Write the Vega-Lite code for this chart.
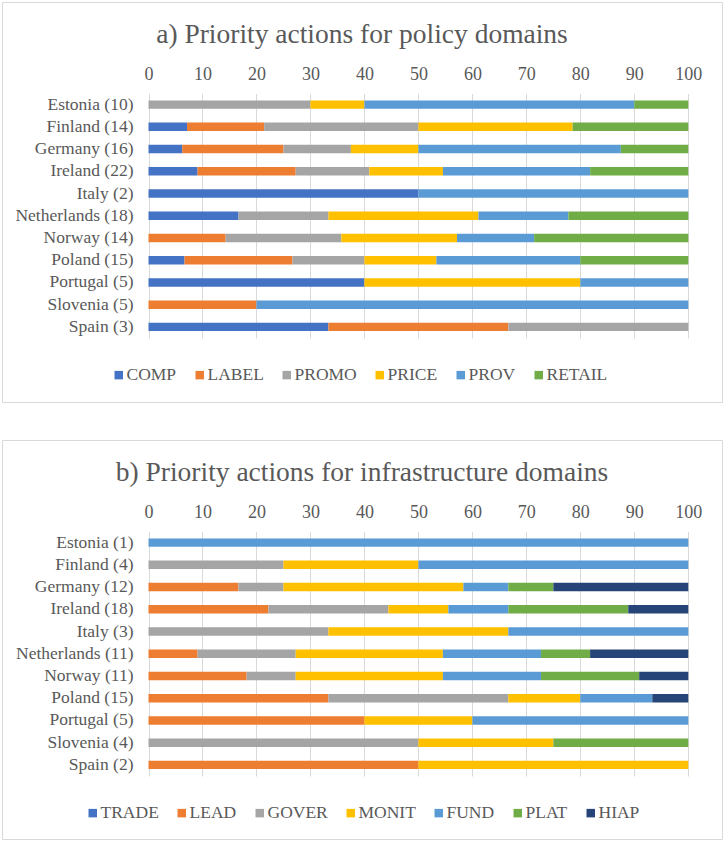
{
  "$schema": "https://vega.github.io/schema/vega-lite/v6.json",
  "padding": {"left": 1, "top": 1, "right": 0, "bottom": 0},
  "background": "white",
  "spacing": 36,
  "resolve": {"scale": {"color": "independent"}, "legend": {"color": "independent"}},
  "config": {
    "view": {"stroke": "#d9d9d9", "strokeWidth": 1},
    "font": "Liberation Serif",
    "title": {"font": "Liberation Serif", "fontSize": 27.5, "fontWeight": "normal", "color": "#595959", "offset": -46, "baseline": "alphabetic", "anchor": "middle"},
    "axis": {"labelFont": "Liberation Serif", "labelColor": "#595959", "domain": false, "ticks": false, "tickSize": 0, "title": null, "labelPadding": 0, "labelFlush": false, "labelOverlap": false},
    "legend": {"labelFont": "Liberation Serif", "labelFontSize": 17.5, "labelColor": "#595959", "symbolType": "square", "symbolSize": 72, "symbolStrokeWidth": 0, "symbolOpacity": 1, "labelOffset": -1, "columnPadding": 14, "padding": 0, "title": null}
  },
  "vconcat": [
    {
      "title": "a) Priority actions for policy domains",
      "width": 720,
      "height": 400,
      "data": {"values": [
        {"country": "Estonia (10)", "action": "PROMO", "pct": 30},
        {"country": "Estonia (10)", "action": "PRICE", "pct": 10},
        {"country": "Estonia (10)", "action": "PROV", "pct": 50},
        {"country": "Estonia (10)", "action": "RETAIL", "pct": 10},
        {"country": "Finland (14)", "action": "COMP", "pct": 7.14},
        {"country": "Finland (14)", "action": "LABEL", "pct": 14.29},
        {"country": "Finland (14)", "action": "PROMO", "pct": 28.57},
        {"country": "Finland (14)", "action": "PRICE", "pct": 28.57},
        {"country": "Finland (14)", "action": "RETAIL", "pct": 21.43},
        {"country": "Germany (16)", "action": "COMP", "pct": 6.25},
        {"country": "Germany (16)", "action": "LABEL", "pct": 18.75},
        {"country": "Germany (16)", "action": "PROMO", "pct": 12.5},
        {"country": "Germany (16)", "action": "PRICE", "pct": 12.5},
        {"country": "Germany (16)", "action": "PROV", "pct": 37.5},
        {"country": "Germany (16)", "action": "RETAIL", "pct": 12.5},
        {"country": "Ireland (22)", "action": "COMP", "pct": 9.09},
        {"country": "Ireland (22)", "action": "LABEL", "pct": 18.18},
        {"country": "Ireland (22)", "action": "PROMO", "pct": 13.64},
        {"country": "Ireland (22)", "action": "PRICE", "pct": 13.64},
        {"country": "Ireland (22)", "action": "PROV", "pct": 27.27},
        {"country": "Ireland (22)", "action": "RETAIL", "pct": 18.18},
        {"country": "Italy (2)", "action": "COMP", "pct": 50},
        {"country": "Italy (2)", "action": "PROV", "pct": 50},
        {"country": "Netherlands (18)", "action": "COMP", "pct": 16.67},
        {"country": "Netherlands (18)", "action": "PROMO", "pct": 16.67},
        {"country": "Netherlands (18)", "action": "PRICE", "pct": 27.78},
        {"country": "Netherlands (18)", "action": "PROV", "pct": 16.67},
        {"country": "Netherlands (18)", "action": "RETAIL", "pct": 22.22},
        {"country": "Norway (14)", "action": "LABEL", "pct": 14.29},
        {"country": "Norway (14)", "action": "PROMO", "pct": 21.43},
        {"country": "Norway (14)", "action": "PRICE", "pct": 21.43},
        {"country": "Norway (14)", "action": "PROV", "pct": 14.29},
        {"country": "Norway (14)", "action": "RETAIL", "pct": 28.57},
        {"country": "Poland  (15)", "action": "COMP", "pct": 6.67},
        {"country": "Poland  (15)", "action": "LABEL", "pct": 20},
        {"country": "Poland  (15)", "action": "PROMO", "pct": 13.33},
        {"country": "Poland  (15)", "action": "PRICE", "pct": 13.33},
        {"country": "Poland  (15)", "action": "PROV", "pct": 26.67},
        {"country": "Poland  (15)", "action": "RETAIL", "pct": 20},
        {"country": "Portugal (5)", "action": "COMP", "pct": 40},
        {"country": "Portugal (5)", "action": "PRICE", "pct": 40},
        {"country": "Portugal (5)", "action": "PROV", "pct": 20},
        {"country": "Slovenia (5)", "action": "LABEL", "pct": 20},
        {"country": "Slovenia (5)", "action": "PROV", "pct": 80},
        {"country": "Spain (3)", "action": "COMP", "pct": 33.33},
        {"country": "Spain (3)", "action": "LABEL", "pct": 33.33},
        {"country": "Spain (3)", "action": "PROMO", "pct": 33.34}
      ]},
      "transform": [
        {"calculate": "indexof(['COMP','LABEL','PROMO','PRICE','PROV','RETAIL'], datum.action)", "as": "stackOrder"}
      ],
      "mark": {"type": "bar"},
      "encoding": {
        "y": {"field": "country", "type": "nominal", "sort": null,
          "scale": {"range": [91.5, 336], "paddingInner": 0.62, "paddingOuter": 0.31},
          "axis": {"orient": "left", "offset": -131, "labelFont": "Liberation Serif", "labelFontSize": 17.5, "labelColor": "#595959", "grid": false, "labelLimit": 200}},
        "x": {"field": "pct", "type": "quantitative", "stack": "zero",
          "scale": {"domain": [0, 100], "range": [146.5, 686.3], "nice": false},
          "axis": {"orient": "top", "values": [0, 10, 20, 30, 40, 50, 60, 70, 80, 90, 100], "offset": -77, "labelFont": "Liberation Serif", "labelFontSize": 18, "labelColor": "#595959", "labelBaseline": "alphabetic", "grid": true, "gridColor": "#d9d9d9", "gridWidth": 1}},
        "order": {"field": "stackOrder", "type": "quantitative", "sort": "ascending"},
        "color": {"field": "action", "type": "nominal",
          "sort": ["COMP", "LABEL", "PROMO", "PRICE", "PROV", "RETAIL"],
          "scale": {"domain": ["COMP", "LABEL", "PROMO", "PRICE", "PROV", "RETAIL"], "range": ["#4472C4", "#ED7D31", "#A5A5A5", "#FFC000", "#5B9BD5", "#70AD47"]},
          "legend": {"orient": "none", "legendX": 108, "legendY": 364, "direction": "horizontal", "labelFont": "Liberation Serif", "labelFontSize": 17.5, "labelColor": "#595959", "symbolType": "square", "symbolSize": 72, "labelOffset": -1, "columnPadding": 14}}
      }
    },
    {
      "title": "b) Priority actions for infrastructure domains",
      "width": 720,
      "height": 399,
      "data": {"values": [
        {"country": "Estonia (1)", "action": "FUND", "pct": 100},
        {"country": "Finland (4)", "action": "GOVER", "pct": 25},
        {"country": "Finland (4)", "action": "MONIT", "pct": 25},
        {"country": "Finland (4)", "action": "FUND", "pct": 50},
        {"country": "Germany (12)", "action": "LEAD", "pct": 16.67},
        {"country": "Germany (12)", "action": "GOVER", "pct": 8.33},
        {"country": "Germany (12)", "action": "MONIT", "pct": 33.33},
        {"country": "Germany (12)", "action": "FUND", "pct": 8.33},
        {"country": "Germany (12)", "action": "PLAT", "pct": 8.34},
        {"country": "Germany (12)", "action": "HIAP", "pct": 25},
        {"country": "Ireland (18)", "action": "LEAD", "pct": 22.22},
        {"country": "Ireland (18)", "action": "GOVER", "pct": 22.22},
        {"country": "Ireland (18)", "action": "MONIT", "pct": 11.11},
        {"country": "Ireland (18)", "action": "FUND", "pct": 11.11},
        {"country": "Ireland (18)", "action": "PLAT", "pct": 22.22},
        {"country": "Ireland (18)", "action": "HIAP", "pct": 11.12},
        {"country": "Italy (3)", "action": "GOVER", "pct": 33.33},
        {"country": "Italy (3)", "action": "MONIT", "pct": 33.33},
        {"country": "Italy (3)", "action": "FUND", "pct": 33.34},
        {"country": "Netherlands (11)", "action": "LEAD", "pct": 9.09},
        {"country": "Netherlands (11)", "action": "GOVER", "pct": 18.18},
        {"country": "Netherlands (11)", "action": "MONIT", "pct": 27.27},
        {"country": "Netherlands (11)", "action": "FUND", "pct": 18.18},
        {"country": "Netherlands (11)", "action": "PLAT", "pct": 9.09},
        {"country": "Netherlands (11)", "action": "HIAP", "pct": 18.19},
        {"country": "Norway (11)", "action": "LEAD", "pct": 18.18},
        {"country": "Norway (11)", "action": "GOVER", "pct": 9.09},
        {"country": "Norway (11)", "action": "MONIT", "pct": 27.27},
        {"country": "Norway (11)", "action": "FUND", "pct": 18.18},
        {"country": "Norway (11)", "action": "PLAT", "pct": 18.18},
        {"country": "Norway (11)", "action": "HIAP", "pct": 9.1},
        {"country": "Poland  (15)", "action": "LEAD", "pct": 33.33},
        {"country": "Poland  (15)", "action": "GOVER", "pct": 33.33},
        {"country": "Poland  (15)", "action": "MONIT", "pct": 13.33},
        {"country": "Poland  (15)", "action": "FUND", "pct": 13.34},
        {"country": "Poland  (15)", "action": "HIAP", "pct": 6.67},
        {"country": "Portugal (5)", "action": "LEAD", "pct": 40},
        {"country": "Portugal (5)", "action": "MONIT", "pct": 20},
        {"country": "Portugal (5)", "action": "FUND", "pct": 40},
        {"country": "Slovenia (4)", "action": "GOVER", "pct": 50},
        {"country": "Slovenia (4)", "action": "MONIT", "pct": 25},
        {"country": "Slovenia (4)", "action": "PLAT", "pct": 25},
        {"country": "Spain (2)", "action": "LEAD", "pct": 50},
        {"country": "Spain (2)", "action": "MONIT", "pct": 50}
      ]},
      "transform": [
        {"calculate": "indexof(['TRADE','LEAD','GOVER','MONIT','FUND','PLAT','HIAP'], datum.action)", "as": "stackOrder"}
      ],
      "mark": {"type": "bar"},
      "encoding": {
        "y": {"field": "country", "type": "nominal", "sort": null,
          "scale": {"range": [91.5, 336], "paddingInner": 0.62, "paddingOuter": 0.31},
          "axis": {"orient": "left", "offset": -131, "labelFont": "Liberation Serif", "labelFontSize": 17.5, "labelColor": "#595959", "grid": false, "labelLimit": 200}},
        "x": {"field": "pct", "type": "quantitative", "stack": "zero",
          "scale": {"domain": [0, 100], "range": [146.5, 686.3], "nice": false},
          "axis": {"orient": "top", "values": [0, 10, 20, 30, 40, 50, 60, 70, 80, 90, 100], "offset": -77, "labelFont": "Liberation Serif", "labelFontSize": 18, "labelColor": "#595959", "labelBaseline": "alphabetic", "grid": true, "gridColor": "#d9d9d9", "gridWidth": 1}},
        "order": {"field": "stackOrder", "type": "quantitative", "sort": "ascending"},
        "color": {"field": "action", "type": "nominal",
          "sort": ["TRADE", "LEAD", "GOVER", "MONIT", "FUND", "PLAT", "HIAP"],
          "scale": {"domain": ["TRADE", "LEAD", "GOVER", "MONIT", "FUND", "PLAT", "HIAP"], "range": ["#4472C4", "#ED7D31", "#A5A5A5", "#FFC000", "#5B9BD5", "#70AD47", "#264478"]},
          "legend": {"orient": "none", "legendX": 82, "legendY": 364, "direction": "horizontal", "labelFont": "Liberation Serif", "labelFontSize": 17.5, "labelColor": "#595959", "symbolType": "square", "symbolSize": 72, "labelOffset": -1, "columnPadding": 14}}
      }
    }
  ]
}
